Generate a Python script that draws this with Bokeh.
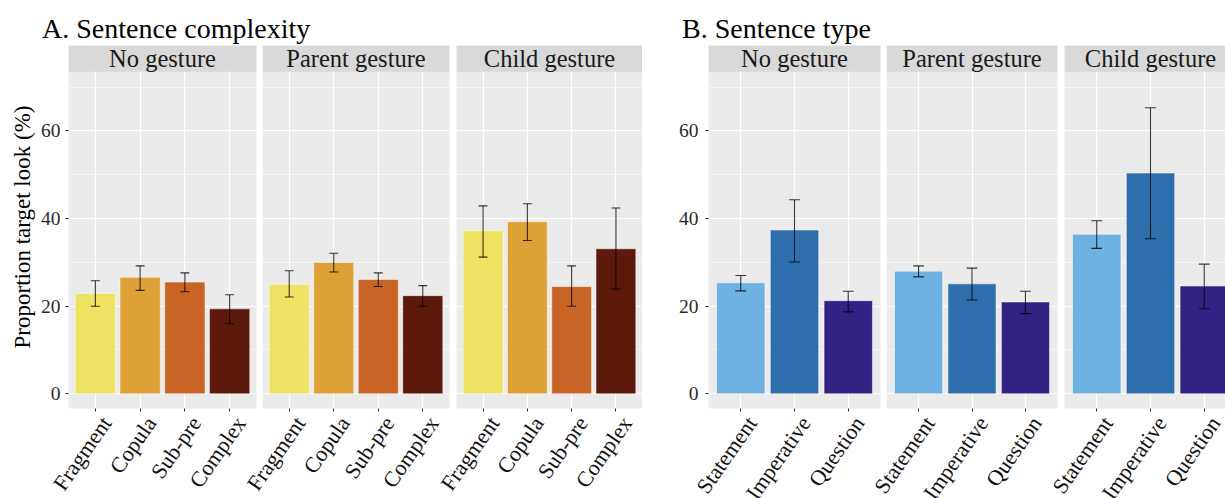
import math
from bokeh.plotting import figure
from bokeh.models import (ColumnDataSource, Range1d, FixedTicker, BoxAnnotation,
                          Label)
from bokeh.layouts import row, column
from bokeh.embed import file_html
from bokeh.resources import INLINE
from bokeh.core.properties import value

# ---------------- data ----------------
facets = ["No gesture", "Parent gesture", "Child gesture"]
title_a = "A. Sentence complexity"
title_b = "B. Sentence type"
y_title = "Proportion target look (%)"

cx_cats = ["Fragment", "Copula", "Sub-pre", "Complex"]
cx_colors = ["#EEE362", "#DDA138", "#C96427", "#5D190B"]
cx_mean_no = [22.9, 26.6, 25.5, 19.4]
cx_lo_no = [20.0, 23.6, 23.3, 16.0]
cx_hi_no = [25.8, 29.2, 27.6, 22.6]
cx_mean_parent = [25.0, 30.0, 26.1, 22.4]
cx_lo_parent = [22.1, 27.8, 24.5, 20.0]
cx_hi_parent = [28.1, 32.1, 27.6, 24.7]
cx_mean_child = [37.2, 39.3, 24.5, 33.1]
cx_lo_child = [31.2, 35.0, 20.0, 23.9]
cx_hi_child = [42.9, 43.4, 29.2, 42.4]

st_cats = ["Statement", "Imperative", "Question"]
st_colors = ["#6EB1E3", "#2F6EAC", "#332284"]
st_mean_no = [25.35, 37.4, 21.25]
st_lo_no = [23.5, 30.1, 18.7]
st_hi_no = [27.0, 44.3, 23.4]
st_mean_parent = [28.0, 25.1, 20.95]
st_lo_parent = [26.7, 21.4, 18.3]
st_hi_parent = [29.2, 28.7, 23.4]
st_mean_child = [36.4, 50.4, 24.6]
st_lo_child = [33.2, 35.4, 19.4]
st_hi_child = [39.5, 65.3, 29.6]

y_ticks = [0, 20, 40, 60]
y_minor = [10, 30, 50, 70]

# ---------------- style / layout ----------------
FONT = "Liberation Serif"
PAGE_W, PAGE_H = 1225, 498
HDR_H = 45
PX_UNIT = 4.38
Y_MIN = -3.36
FRAME_H = 363
Y_MAX = Y_MIN + FRAME_H / PX_UNIT
PANEL_TOP = 73.5
BOTTOM = 5
FIG_H = FRAME_H + BOTTOM
LAB_H = PAGE_H - HDR_H - FIG_H
TICK = 3
LAB_ANGLE = math.radians(55)
LAB_BX = 11         # baseline-right end of a label, right of its tick (px)
LAB_BY = 10.5       # baseline-right end of a label, below the panel (px)
LAB_SIZE = "22px"
CAP_HALF = 0.1
BAR_W = 0.9

tick_page_x = []
tick_labels = []


def make_panel(cats, colors, mean, lo, hi, facet, fig_left, frame_w, b_left,
               b_right, units_visible=None, show_y=False, y_label=None,
               tick_standoff=5, label_standoff=3):
    n = len(cats)
    x_start = -0.6
    x_end = (n - 0.4) if units_visible is None else x_start + units_visible
    ppu = frame_w / (x_end - x_start)
    p = figure(width=b_left + frame_w + b_right, height=FIG_H,
               x_range=Range1d(x_start, x_end), y_range=Range1d(Y_MIN, Y_MAX),
               toolbar_location=None, output_backend="svg",
               y_axis_location="left" if show_y else None,
               min_border_left=b_left, min_border_right=b_right,
               min_border_top=0, min_border_bottom=BOTTOM,
               background_fill_color="#EBEBEB", border_fill_color="white",
               outline_line_color=None)
    xs = list(range(n))
    src = ColumnDataSource(dict(
        x=xs, top=mean, lo=lo, hi=hi, color=colors,
        cl=[x - CAP_HALF for x in xs], cr=[x + CAP_HALF for x in xs]))

    # remember where the category ticks fall on the page (for the labels row)
    for i, c in zip(xs, cats):
        tick_page_x.append(fig_left + b_left + (i - x_start) * ppu)
        tick_labels.append(c)

    # grid
    p.xgrid.ticker = FixedTicker(ticks=xs)
    p.ygrid.ticker = FixedTicker(ticks=y_ticks, minor_ticks=y_minor)
    p.xgrid.grid_line_color = "white"
    p.ygrid.grid_line_color = "white"
    p.xgrid.grid_line_width = 1.1
    p.ygrid.grid_line_width = 1.1
    p.ygrid.minor_grid_line_color = "white"
    p.ygrid.minor_grid_line_width = 0.55

    # bars and error bars
    p.vbar(x="x", top="top", bottom=0, width=BAR_W, fill_color="color",
           line_color="white", line_alpha=0.5, line_width=1, source=src)
    for (x0, y0, x1, y1) in [("x", "lo", "x", "hi"), ("cl", "lo", "cr", "lo"),
                             ("cl", "hi", "cr", "hi")]:
        p.segment(x0=x0, y0=y0, x1=x1, y1=y1, line_color="black",
                  line_alpha=0.78, line_width=1.1, source=src)

    # x axis: tick marks only (labels are drawn rotated in the row below)
    ax = p.xaxis[0]
    ax.ticker = FixedTicker(ticks=xs)
    ax.major_label_overrides = {i: "" for i in xs}
    ax.major_label_text_font_size = "0px"
    ax.major_label_standoff = 0
    ax.axis_line_color = None
    ax.major_tick_out = TICK
    ax.major_tick_in = 0
    ax.minor_tick_out = 0
    ax.minor_tick_in = 0
    ax.major_tick_line_color = "#333333"

    if show_y:
        ya = p.yaxis[0]
        ya.ticker = FixedTicker(ticks=y_ticks)
        ya.axis_line_color = None
        ya.major_tick_out = TICK
        ya.major_tick_in = 0
        ya.minor_tick_out = 0
        ya.minor_tick_in = 0
        ya.major_tick_line_color = "#333333"
        ya.major_label_text_font = FONT
        ya.major_label_text_font_size = "19.5px"
        ya.major_label_text_color = "#2b2b2b"
        ya.major_label_standoff = tick_standoff
        if y_label:
            ya.axis_label = y_label
            ya.axis_label_text_font = FONT
            ya.axis_label_text_font_size = "23px"
            ya.axis_label_text_font_style = "normal"
            ya.axis_label_text_color = "#000000"
            ya.axis_label_standoff = label_standoff

    # facet strip
    strip = BoxAnnotation(bottom=PANEL_TOP, top=Y_MAX, left=x_start, right=x_end,
                          fill_color="#D9D9D9", fill_alpha=1.0, line_color=None)
    p.add_layout(strip)
    p.add_layout(Label(x=(n - 1) / 2, y=(PANEL_TOP + Y_MAX) / 2, text=facet,
                       text_align="center", text_baseline="middle",
                       text_font=FONT, text_font_size="24.5px",
                       text_color="#1a1a1a"))
    return p


specs = [
    (cx_cats, cx_colors, cx_mean_no, cx_lo_no, cx_hi_no, facets[0], 188, 68, 3,
     dict(show_y=True, y_label=y_title, tick_standoff=5, label_standoff=3)),
    (cx_cats, cx_colors, cx_mean_parent, cx_lo_parent, cx_hi_parent, facets[1],
     187, 3, 3, {}),
    (cx_cats, cx_colors, cx_mean_child, cx_lo_child, cx_hi_child, facets[2],
     186, 4, 0, {}),
    (st_cats, st_colors, st_mean_no, st_lo_no, st_hi_no, facets[0], 172, 66, 3,
     dict(show_y=True, tick_standoff=7)),
    (st_cats, st_colors, st_mean_parent, st_lo_parent, st_hi_parent, facets[1],
     171, 3, 3, {}),
    (st_cats, st_colors, st_mean_child, st_lo_child, st_hi_child, facets[2],
     161, 4, 0, dict(units_visible=161 / 53.75)),
]

panels = []
left = 0
for cats, cols, m, lo, hi, fac, fw, bl, br, kw in specs:
    panels.append(make_panel(cats, cols, m, lo, hi, fac, left, fw, bl, br, **kw))
    left += bl + fw + br

# header with the two panel titles
hdr = figure(width=PAGE_W, height=HDR_H, x_range=Range1d(0, PAGE_W),
             y_range=Range1d(0, HDR_H), toolbar_location=None,
             output_backend="svg", x_axis_location=None, y_axis_location=None,
             min_border=0, outline_line_color=None,
             background_fill_color="white", border_fill_color="white")
for g in hdr.grid:
    g.visible = False
hdr.add_layout(Label(x=41.5, y=16.8, text=title_a, text_align="left",
                     text_baseline="alphabetic", text_font=FONT,
                     text_font_size="28px", text_color="#000000"))
hdr.add_layout(Label(x=681.5, y=17.0, text=title_b, text_align="left",
                     text_baseline="alphabetic", text_font=FONT,
                     text_font_size="28px", text_color="#000000"))

# row of rotated category labels under the panels
labfig = figure(width=PAGE_W, height=LAB_H, x_range=Range1d(0, PAGE_W),
                y_range=Range1d(0, LAB_H), toolbar_location=None,
                output_backend="svg", x_axis_location=None, y_axis_location=None,
                min_border=0, outline_line_color=None,
                background_fill_color="white", border_fill_color="white")
for g in labfig.grid:
    g.visible = False
lab_src = ColumnDataSource(dict(
    x=[t + LAB_BX for t in tick_page_x],
    y=[LAB_H - (LAB_BY - BOTTOM)] * len(tick_page_x),
    label=tick_labels))
labfig.text(x="x", y="y", text="label", source=lab_src, angle=LAB_ANGLE,
            text_align="right", text_baseline="alphabetic",
            text_font=value(FONT), text_font_size=value(LAB_SIZE),
            text_color="#111111")

layout = column(hdr, row(*panels), labfig)

open("out.html", "w").write(file_html(layout, INLINE))
